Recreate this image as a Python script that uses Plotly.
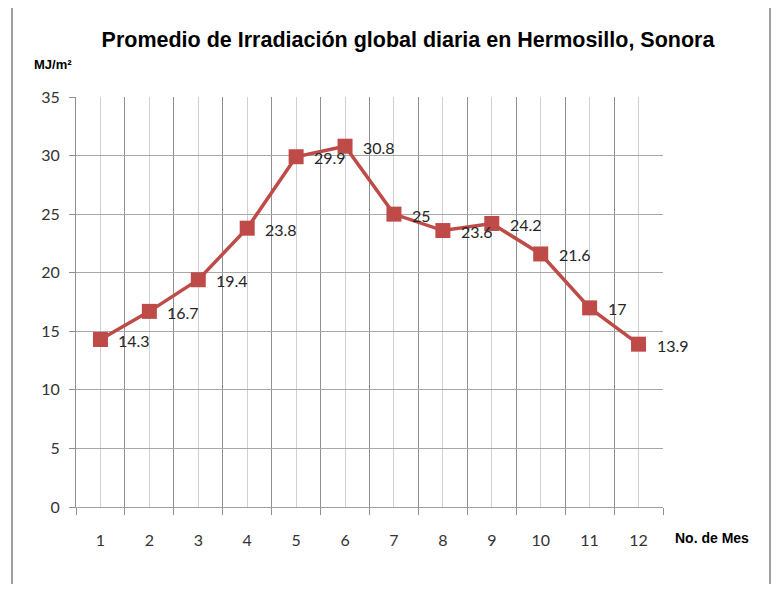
import plotly.graph_objects as go

meses = [1, 2, 3, 4, 5, 6, 7, 8, 9, 10, 11, 12]
irradiacion = [14.3, 16.7, 19.4, 23.8, 29.9, 30.8, 25, 23.6, 24.2, 21.6, 17, 13.9]
etiquetas = ["14.3", "16.7", "19.4", "23.8", "29.9", "30.8", "25", "23.6", "24.2", "21.6", "17", "13.9"]

# the page puts the figure 8px in from the top-left corner
OFF = 8
W, H = 780 - 2 * OFF, 592 - 2 * OFF
# plot area in screen pixels: x 76..663, y 97..507
ML, MT = 76 - OFF, 97 - OFF
MR, MB = W - (663 - OFF), H - (507 - OFF)
pw, ph = W - ML - MR, H - MT - MB


def px(x):
    return (x - OFF - ML) / pw


def py(y):
    return (H - MB - (y - OFF)) / ph


fig = go.Figure()
fig.add_trace(go.Scatter(
    x=meses, y=irradiacion,
    mode="lines+markers",
    line=dict(color="#BE4B48", width=3.5),
    marker=dict(symbol="square", size=15, color="#BE4B48"),
    cliponaxis=False,
    showlegend=False,
))

# data labels, a little right of and below each marker
for m, v, t in zip(meses, irradiacion, etiquetas):
    fig.add_annotation(
        x=m, y=v, text=t, showarrow=False,
        xanchor="left", yanchor="middle", xshift=16, yshift=-1,
        font=dict(family="Lato, sans-serif", size=16, color="#262626"),
    )

fig.update_layout(
    width=W, height=H,
    margin=dict(l=ML, r=MR, t=MT, b=MB),
    paper_bgcolor="white", plot_bgcolor="white",
    title=dict(
        text="<b>Promedio de Irradiación global diaria en Hermosillo, Sonora</b>",
        xref="container", x=(408 - OFF) / W, xanchor="center",
        yref="container", y=1 - (39 - OFF) / H, yanchor="middle",
        font=dict(family="Liberation Sans, Arial", size=21.5, color="black"),
    ),
    xaxis=dict(
        range=[0.5, 12.5], tickvals=meses, ticks="",
        showgrid=True, gridcolor="#D0D0D0", gridwidth=1,
        showline=True, linecolor="#A0A0A0", linewidth=1,
        tickfont=dict(family="Lato, sans-serif", size=16, color="#333333"),
        ticklabelstandoff=19,
        minor=dict(tick0=0.5, dtick=1, showgrid=True, gridcolor="#909090",
                   ticks="outside", ticklen=7, tickcolor="#909090"),
        zeroline=False, fixedrange=True,
    ),
    yaxis=dict(
        range=[0, 35], dtick=5, ticks="outside", ticklen=6, tickcolor="#909090",
        showgrid=True, gridcolor="#A8A8A8", gridwidth=1,
        showline=True, linecolor="#909090", linewidth=1,
        tickfont=dict(family="Lato, sans-serif", size=16, color="#333333"),
        ticklabelstandoff=6,
        zeroline=False, fixedrange=True,
    ),
    shapes=[dict(
        type="rect", xref="paper", yref="paper",
        x0=px(12), x1=px(770), y0=py(600), y1=py(6),
        line=dict(color="#808080", width=1.5), fillcolor="rgba(0,0,0,0)",
        layer="below",
    )],
)

fig.add_annotation(
    text="<b>MJ/m²</b>", xref="paper", yref="paper",
    x=px(32), y=py(65), xanchor="left", yanchor="middle", showarrow=False,
    font=dict(family="Liberation Sans, Arial", size=13, color="black"),
)
fig.add_annotation(
    text="<b>No. de Mes</b>", xref="paper", yref="paper",
    x=px(673), y=py(538), xanchor="left", yanchor="middle", showarrow=False,
    font=dict(family="Liberation Sans, Arial", size=14, color="black"),
)

fig.write_html("out.html")
